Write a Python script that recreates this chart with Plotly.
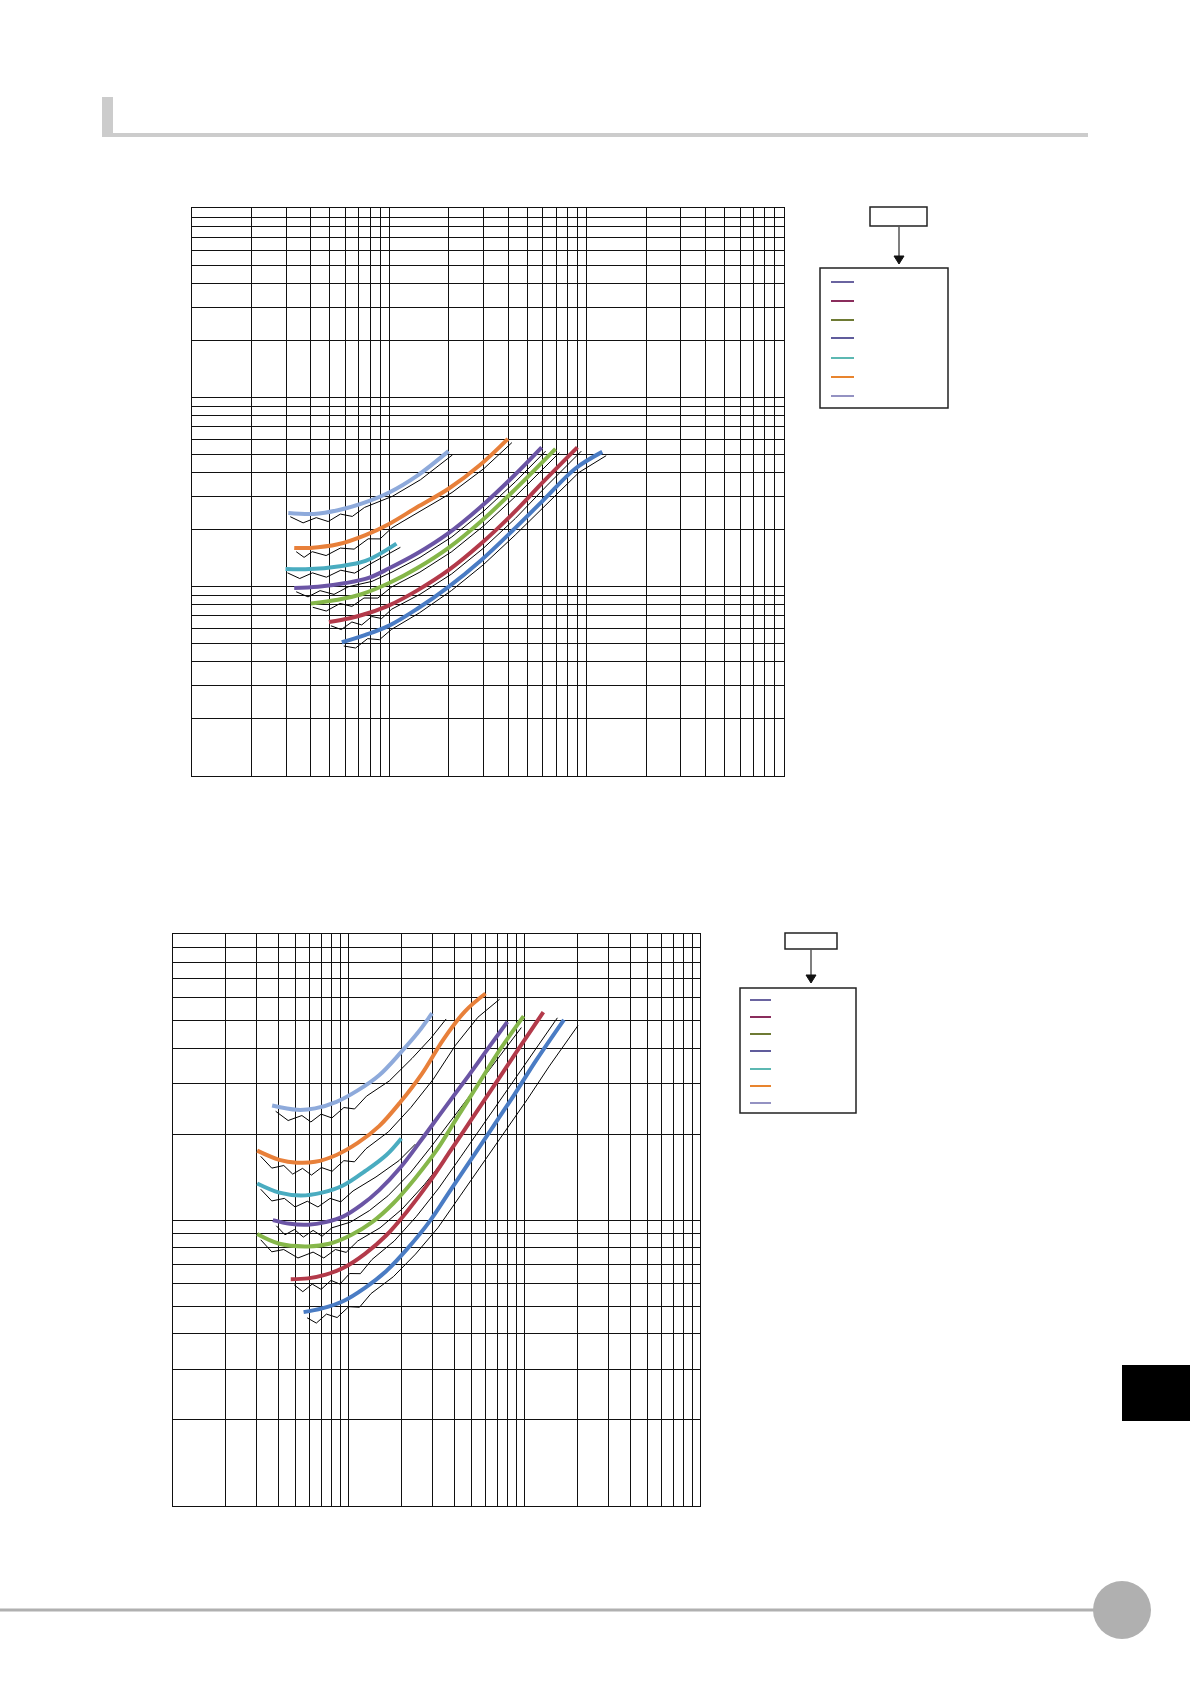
import numpy as np
import plotly.graph_objects as go

W, H = 1190, 1684

# ---- upper chart: log10 values ----
U_LIGHTBLUE_LX = [0.488, 0.618, 0.739, 0.859, 0.999, 1.140, 1.300]
U_LIGHTBLUE_LY = [1.389, 1.384, 1.403, 1.438, 1.497, 1.585, 1.716]
U_ORANGE_LX = [0.518, 0.598, 0.739, 0.879, 0.999, 1.140, 1.300, 1.461, 1.601]
U_ORANGE_LY = [1.204, 1.204, 1.223, 1.272, 1.331, 1.419, 1.517, 1.644, 1.781]
U_TEAL_LX = [0.474, 0.598, 0.739, 0.879, 1.036]
U_TEAL_LY = [1.092, 1.092, 1.106, 1.135, 1.227]
U_PURPLE_LX = [0.518, 0.638, 0.779, 0.899, 0.999, 1.140, 1.300, 1.461, 1.621, 1.772]
U_PURPLE_LY = [0.992, 0.998, 1.018, 1.047, 1.096, 1.174, 1.282, 1.419, 1.575, 1.736]
U_GREEN_LX = [0.602, 0.739, 0.859, 0.999, 1.140, 1.300, 1.461, 1.621, 1.842]
U_GREEN_LY = [0.910, 0.930, 0.959, 1.018, 1.096, 1.204, 1.341, 1.497, 1.728]
U_RED_LX = [0.694, 0.799, 0.899, 0.999, 1.140, 1.300, 1.461, 1.621, 1.782, 1.953]
U_RED_LY = [0.812, 0.832, 0.861, 0.900, 0.978, 1.086, 1.223, 1.380, 1.556, 1.736]
U_BLUE_LX = [0.759, 0.879, 0.999, 1.140, 1.300, 1.461, 1.621, 1.782, 1.943, 2.079]
U_BLUE_LY = [0.705, 0.744, 0.793, 0.881, 0.998, 1.135, 1.292, 1.458, 1.624, 1.712]

# ---- lower chart: 3 decades across, 2 decades up ----
L_LIGHTBLUE_LX = [0.564, 0.706, 0.808, 0.930, 1.051, 1.173, 1.295, 1.396, 1.474]
L_LIGHTBLUE_LY = [1.401, 1.386, 1.391, 1.414, 1.454, 1.507, 1.586, 1.658, 1.724]
L_ORANGE_LX = [0.479, 0.605, 0.706, 0.808, 0.930, 1.051, 1.173, 1.295, 1.417, 1.538, 1.660, 1.778]
L_ORANGE_LY = [1.243, 1.211, 1.201, 1.204, 1.228, 1.270, 1.329, 1.414, 1.513, 1.632, 1.730, 1.793]
L_TEAL_LX = [0.479, 0.605, 0.727, 0.848, 0.970, 1.092, 1.214, 1.299]
L_TEAL_LY = [1.128, 1.096, 1.086, 1.096, 1.122, 1.171, 1.228, 1.286]
L_PURPLE_LX = [0.568, 0.666, 0.767, 0.869, 0.970, 1.072, 1.173, 1.295, 1.405, 1.538, 1.681, 1.802, 1.902]
L_PURPLE_LY = [1.000, 0.987, 0.984, 0.993, 1.013, 1.053, 1.105, 1.185, 1.274, 1.386, 1.505, 1.609, 1.694]
L_GREEN_LX = [0.479, 0.605, 0.767, 0.889, 1.011, 1.133, 1.254, 1.376, 1.498, 1.620, 1.741, 1.863, 1.995]
L_GREEN_LY = [0.951, 0.917, 0.908, 0.917, 0.947, 0.993, 1.059, 1.145, 1.243, 1.362, 1.480, 1.599, 1.714]
L_RED_LX = [0.670, 0.767, 0.869, 0.970, 1.092, 1.214, 1.335, 1.457, 1.579, 1.701, 1.823, 1.944, 2.107]
L_RED_LY = [0.793, 0.796, 0.809, 0.833, 0.882, 0.947, 1.033, 1.132, 1.243, 1.355, 1.467, 1.579, 1.728]
L_BLUE_LX = [0.743, 0.848, 0.970, 1.092, 1.214, 1.335, 1.457, 1.579, 1.701, 1.823, 1.944, 2.066, 2.224]
L_BLUE_LY = [0.678, 0.691, 0.717, 0.763, 0.822, 0.901, 0.993, 1.105, 1.217, 1.329, 1.441, 1.559, 1.701]

CURVE_COLORS = {
    "lightblue": "#8eaadb", "orange": "#e8803a", "teal": "#4aacc0",
    "purple": "#6b55a5", "green": "#86b74a", "red": "#b33a4a", "blue": "#4a7cc4",
}
# legend swatches (top to bottom), printed a bit duller than the curves
LEGEND_COLORS = ["#6a64a0", "#8a2d5c", "#6e7a34", "#605c9c", "#5cb8b2", "#e8842e", "#9492c2"]

UPPER = [
    ("lightblue", U_LIGHTBLUE_LX, U_LIGHTBLUE_LY, 3),
    ("orange", U_ORANGE_LX, U_ORANGE_LY, 4),
    ("teal", U_TEAL_LX, U_TEAL_LY, 3),
    ("purple", U_PURPLE_LX, U_PURPLE_LY, 2),
    ("green", U_GREEN_LX, U_GREEN_LY, 3),
    ("red", U_RED_LX, U_RED_LY, 3),
    ("blue", U_BLUE_LX, U_BLUE_LY, 2),
]
LOWER = [
    ("lightblue", L_LIGHTBLUE_LX, L_LIGHTBLUE_LY, 4),
    ("orange", L_ORANGE_LX, L_ORANGE_LY, 5),
    ("teal", L_TEAL_LX, L_TEAL_LY, 4),
    ("purple", L_PURPLE_LX, L_PURPLE_LY, 3),
    ("green", L_GREEN_LX, L_GREEN_LY, 4),
    ("red", L_RED_LX, L_RED_LY, 4),
    ("blue", L_BLUE_LX, L_BLUE_LY, 3),
]


def shadow(lx, ly, dx0, dx1, dy, notches, depth):
    # thin black outline offset from the coloured curve, with the small
    # saw-tooth notches near the start seen in the print
    sx, sy = [], []
    n = len(lx)
    for i in range(n):
        dx = dx0 + (dx1 - dx0) * i / (n - 1)
        sx.append(lx[i] + dx)
        sy.append(ly[i] - dy)
        if i < notches and i + 1 < n:
            sx.append((lx[i] + lx[i + 1]) / 2 + dx)
            sy.append((ly[i] + ly[i + 1]) / 2 - dy - depth)
    return 10 ** np.array(sx), 10 ** np.array(sy)


def px(x):
    return x / W


def py(y):
    return 1 - y / H


fig = go.Figure()

for curves, xa, ya, dx0, dx1, dy, depth in [
    (UPPER, "x", "y", 0.01, 0.02, 0.02, 0.03),
    (LOWER, "x2", "y2", 0.02, 0.08, 0.02, 0.025),
]:
    for name, lx, ly, notches in curves:
        sx, sy = shadow(lx, ly, dx0, dx1, dy, notches, depth)
        fig.add_trace(go.Scatter(x=sx, y=sy, mode="lines", xaxis=xa, yaxis=ya,
                                 line=dict(color="black", width=1), showlegend=False,
                                 hoverinfo="skip"))
        fig.add_trace(go.Scatter(x=10 ** np.array(lx), y=10 ** np.array(ly), mode="lines",
                                 xaxis=xa, yaxis=ya, line=dict(color=CURVE_COLORS[name], width=4,
                                                               shape="spline"),
                                 showlegend=False))

log_axis = dict(type="log", dtick="D1", showgrid=True, gridcolor="#111111", gridwidth=1,
                showticklabels=False, ticks="", showline=True, mirror=True,
                linecolor="#111111", linewidth=1, zeroline=False, fixedrange=True)

fig.update_layout(
    width=W, height=H, autosize=False,
    margin=dict(l=0, r=0, t=0, b=0),
    paper_bgcolor="white", plot_bgcolor="white",
    showlegend=False,
    xaxis=dict(log_axis, domain=[px(192), px(784)], range=[0, 3], anchor="y"),
    yaxis=dict(log_axis, domain=[py(775.5), py(208.4)], range=[0, 3], anchor="x"),
    xaxis2=dict(log_axis, domain=[px(173), px(700.3)], range=[0, 3], anchor="y2"),
    yaxis2=dict(log_axis, domain=[py(1505.8), py(934.4)], range=[0, 2], anchor="x2"),
)

shapes = []


def rect(x0, y0, x1, y1, **kw):
    shapes.append(dict(type="rect", xref="paper", yref="paper",
                       x0=px(x0), x1=px(x1), y0=py(y1), y1=py(y0), **kw))


def line(x0, y0, x1, y1, color, width):
    shapes.append(dict(type="line", xref="paper", yref="paper",
                       x0=px(x0), x1=px(x1), y0=py(y0), y1=py(y1),
                       line=dict(color=color, width=width)))


def legend_block(small, arrow_x, arrow_y0, arrow_y1, box, sw_x0, sw_x1, rows):
    rect(*small, line=dict(color="#222222", width=1.5), fillcolor="white")
    line(arrow_x, arrow_y0, arrow_x, arrow_y1 - 7, "#555555", 1.5)
    shapes.append(dict(type="path", xref="paper", yref="paper",
                       path=f"M {px(arrow_x - 5)},{py(arrow_y1 - 8)} L {px(arrow_x + 5)},{py(arrow_y1 - 8)} "
                            f"L {px(arrow_x)},{py(arrow_y1)} Z",
                       fillcolor="#111111", line=dict(color="#111111", width=1)))
    rect(*box, line=dict(color="#222222", width=1.5), fillcolor="rgba(0,0,0,0)")
    for color, yy in zip(LEGEND_COLORS, rows):
        line(sw_x0, yy, sw_x1, yy, color, 2)


# header bar
rect(102, 97, 113, 137, fillcolor="#cccccc", line=dict(width=0))
rect(102, 133, 1088, 137, fillcolor="#cccccc", line=dict(width=0))

# legend blocks
legend_block((870, 207, 927, 226), 899, 226, 264, (820, 268, 948, 408), 831, 854,
             [282, 301, 320, 338, 358, 377, 396])
legend_block((785, 933, 837, 949), 811, 949, 983, (740, 988, 856, 1113), 750, 771,
             [1000, 1017, 1034, 1051, 1069, 1086, 1103])

# side tab and footer
rect(1122, 1365, 1190, 1421, fillcolor="black", line=dict(width=0))
line(0, 1610, 1100, 1610, "#b0b0b0", 3)
shapes.append(dict(type="circle", xref="paper", yref="paper",
                   x0=px(1093), x1=px(1151), y0=py(1639), y1=py(1581),
                   fillcolor="#b0b0b0", line=dict(width=0)))

fig.update_layout(shapes=shapes)

fig.write_html("out.html", config={"displayModeBar": False},
               post_script="document.body.style.margin='0';")
